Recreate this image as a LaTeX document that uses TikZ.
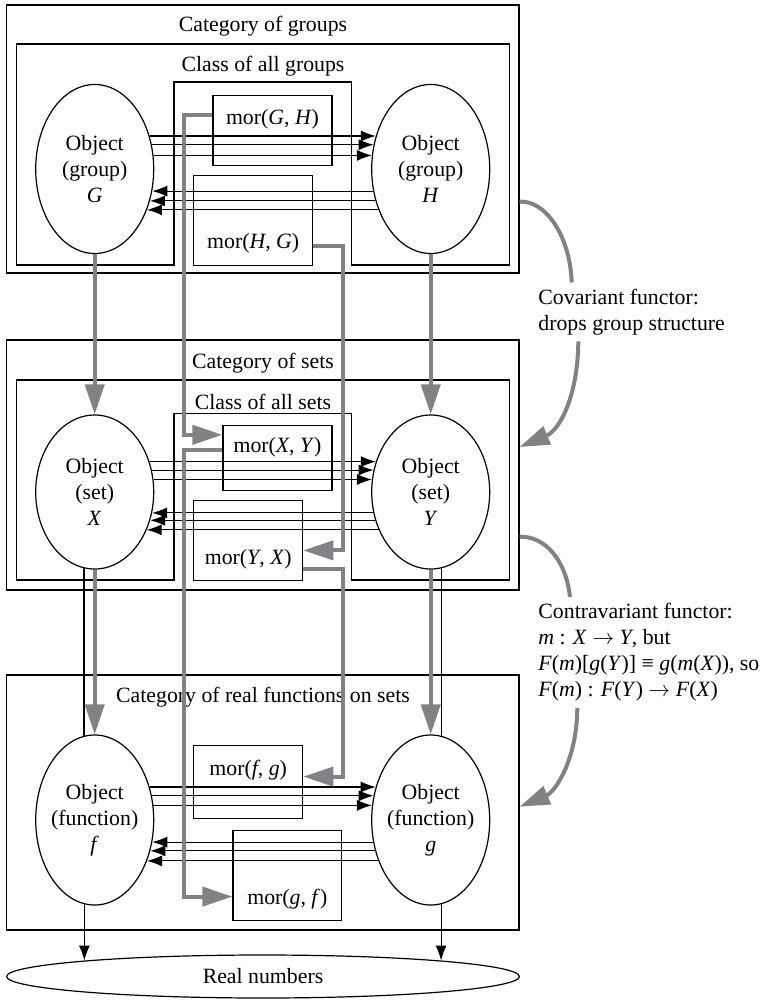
\documentclass[tikz,border=0pt]{standalone}
\usepackage{fontspec}
\setmainfont{Liberation Serif}
\usetikzlibrary{arrows.meta,shapes.geometric}

\definecolor{functorgray}{RGB}{128,130,133}

\tikzset{
  catbox/.style={draw, line width=0.6pt, inner sep=0pt},
  classline/.style={draw, line width=0.6pt},
  objnode/.style={draw, ellipse, line width=0.6pt, inner xsep=-2pt, inner ysep=0pt, align=center, minimum width=59pt},
  morbox/.style={draw, line width=0.6pt, inner sep=0pt, anchor=north},
  morarrow/.style={-{Latex[length=7.5pt,width=5.5pt]}, line width=0.55pt},
  functor/.style={-{Triangle[length=15pt,width=9.5pt]}, draw=functorgray, line width=2pt},
  functorline/.style={draw=functorgray, line width=2pt},
}

\begin{document}
\begin{tikzpicture}[x=0.5pt, y=-0.5pt, font=\fontsize{10.9}{13}\selectfont]
  \useasboundingbox (0,0) rectangle (763,1000);

  % the three categories
  \node[catbox, minimum width=256.1pt, minimum height=134pt] (catgrp) at (262.9,139) {};
  \node[catbox, minimum width=256.1pt, minimum height=125pt] (catset) at (262.9,465) {};
  \node[catbox, minimum width=256.1pt, minimum height=127.5pt] (catfun) at (262.9,802.5) {};

  % classes of objects, open at the bottom for the morphism boxes
  \draw[classline] (16.2,44) -- (509.5,44) -- (509.5,265) -- (351.6,265) -- (351.6,82) -- (174,82) -- (174,265) -- (16.2,265) -- cycle;
  \draw[classline] (16.2,380) -- (509.5,380) -- (509.5,580) -- (351.6,580) -- (351.6,413.8) -- (174,413.8) -- (174,580) -- (16.2,580) -- cycle;

  \node (tgrp) at (263,26.4) {Category of groups};
  \node (cgrp) at (263,66) {Class of all groups};
  \node (tset) at (263,362.8) {Category of sets};
  \node (cset) at (263,401.7) {Class of all sets};
  \node (tfun) at (263,697) {Category of real functions on sets};

  % objects
  \node[objnode, minimum height=84.5pt] (G) at (94.7,169) {Object\\(group)\\\textit{G}};
  \node[objnode, minimum height=84.5pt] (H) at (430.7,169) {Object\\(group)\\\textit{H}};
  \node[objnode, minimum height=77pt] (X) at (94.7,492) {Object\\(set)\\\textit{X}};
  \node[objnode, minimum height=77pt] (Y) at (430.7,492) {Object\\(set)\\\textit{Y}};
  \node[objnode, minimum height=85pt] (f) at (94.7,820) {Object\\(function)\\\textit{f}};
  \node[objnode, minimum height=85pt] (g) at (430.7,820) {Object\\(function)\\\textit{g}};
  \node[objnode, minimum width=256.4pt, minimum height=21.5pt] (reals) at (263,976.5) {Real numbers};

  % hom-sets
  \node[morbox, minimum width=59.5pt, text height=14.45pt, text depth=20.7pt] (mGH) at (272.5,94.7) {mor(\textit{G}, \textit{H})};
  \node[morbox, minimum width=59.5pt, text height=36.75pt, text depth=8.2pt] (mHG) at (253.2,174.8) {mor(\textit{H}, \textit{G})};
  \node[morbox, minimum width=54.5pt, text height=13.75pt, text depth=18.9pt] (mXY) at (277.5,424.7) {mor(\textit{X}, \textit{Y})};
  \node[morbox, minimum width=54.5pt, text height=31.8pt, text depth=8.2pt] (mYX) at (248.2,500) {mor(\textit{Y}, \textit{X})};
  \node[morbox, minimum width=54.5pt, text height=14.8pt, text depth=21.7pt] (mfg) at (248.2,745) {mor(\textit{f}, \textit{g})};
  \node[morbox, minimum width=54.25pt, text height=36.8pt, text depth=8.2pt] (mgf) at (287.3,830) {mor(\textit{g}, \textit{f})};

  % morphisms
  \draw[morarrow] (G.31) -- (H.149);
  \draw[morarrow] (G.23) -- (H.157);
  \draw[morarrow] (G.13) -- (H.167);
  \draw[morarrow] (H.201) -- (G.339);
  \draw[morarrow] (H.210) -- (G.330);
  \draw[morarrow] (H.218) -- (G.322);

  \draw[morarrow] (X.29) -- (Y.151);
  \draw[morarrow] (X.21) -- (Y.159);
  \draw[morarrow] (X.12) -- (Y.168);
  \draw[morarrow] (Y.200) -- (X.340);
  \draw[morarrow] (Y.207) -- (X.333);
  \draw[morarrow] (Y.216) -- (X.324);

  \draw[morarrow] (f.31) -- (g.149);
  \draw[morarrow] (f.23) -- (g.157);
  \draw[morarrow] (f.14) -- (g.166);
  \draw[morarrow] (g.201) -- (f.339);
  \draw[morarrow] (g.209) -- (f.331);
  \draw[morarrow] (g.218) -- (f.322);

  % functions into the reals
  \draw[line width=0.55pt] (X.262) -- (X.262 |- f.97);
  \draw[line width=0.55pt] (Y.278) -- (Y.278 |- g.83);
  \draw[morarrow] (f.263) -- (f.263 |- 0,960.5);
  \draw[morarrow] (g.277) -- (g.277 |- 0,960.5);

  % functors
  \draw[functor] (G) -- (X);
  \draw[functor] (H) -- (Y);
  \draw[functor] (X) -- (f);
  \draw[functor] (Y) -- (g);

  \draw[functor] (mGH.west |- 0,115) -| (183.6,434.8) -- (mXY.west |- 0,434.8);
  \draw[functor] (mHG.east |- 0,246) -| (343,550.4) -- (mYX.east |- 0,550.4);
  \draw[functor] (mXY.west |- 0,450) -| (183.6,896.6) -- (mgf.west |- 0,896.6);
  \draw[functor] (mYX.east |- 0,569.4) -| (343,776.6) -- (mfg.east |- 0,776.6);

  \node[anchor=north west, align=left, inner sep=3pt] (cov) at (532,282.5) {Covariant functor:\\drops group structure};
  \node[anchor=north west, align=left, inner sep=3pt] (contra) at (532,597) {Contravariant functor:\\\textit{m} : \textit{X} $\rightarrow$ \textit{Y}, but\\\textit{F}(\textit{m})[\textit{g}(\textit{Y})] ≡ \textit{g}(\textit{m}(\textit{X})), so\\\textit{F}(\textit{m}) : \textit{F}(\textit{Y}) $\rightarrow$ \textit{F}(\textit{X})};

  \draw[functorline] (catgrp.east |- 0,201.7) .. controls (545,200) and (570,235) .. (cov.north -| 571.7,0);
  \draw[functor] (cov.south -| 578.3,0) .. controls (578,395) and (560,430) .. (catset.east |- 0,447);
  \draw[functorline] (catset.east |- 0,536.7) .. controls (545,536) and (566,560) .. (contra.north -| 570,0);
  \draw[functor] (contra.south -| 577.3,0) .. controls (577,760) and (555,792) .. (catfun.east |- 0,806.7);

\end{tikzpicture}
\end{document}
